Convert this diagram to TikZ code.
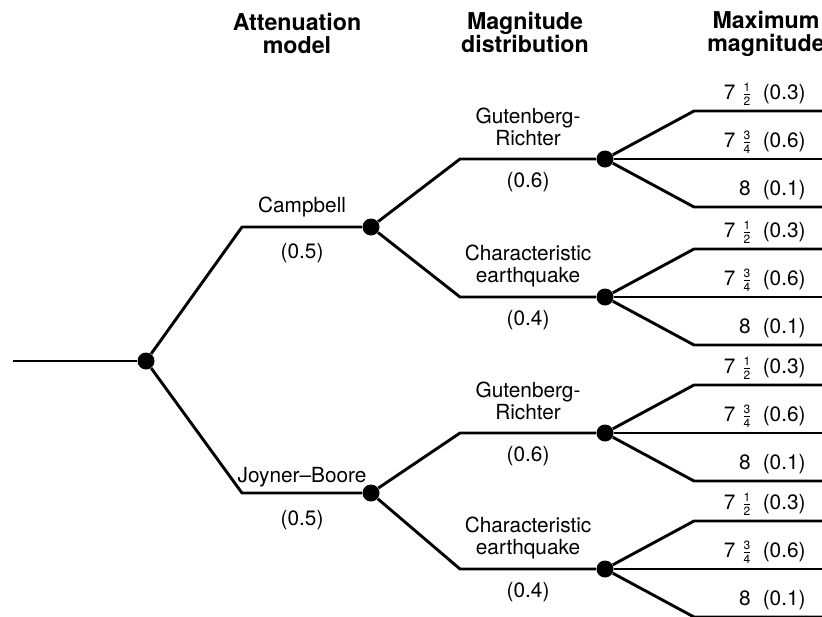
\documentclass[tikz,border=0pt]{standalone}
\usepackage{fontspec}
\setmainfont{TeX Gyre Heros}
\usetikzlibrary{calc}
\newcommand\magfrac[2]{$\frac{\mbox{\fontsize{6}{6}\selectfont#1}}{\mbox{\fontsize{6}{6}\selectfont#2}}$}

\begin{document}
\begin{tikzpicture}
      [x=.5pt,y=-.5pt
      ,dot/.style={circle,fill=black,inner sep=0pt,minimum size=8.5pt}
      ,lin/.style={line width=1.45pt,line join=round}
      ,lab/.style={font=\fontsize{10.4}{11}\selectfont,align=center,inner sep=0pt}
      ,head/.style={font=\fontsize{11.6}{11.5}\selectfont\bfseries,align=center,inner sep=0pt}
      ,mag/.style={font=\fontsize{10.4}{11}\selectfont,inner sep=0pt,anchor=base east,xshift=-7.5pt,yshift=6pt}
      ]
        \useasboundingbox (0,0) rectangle (822,616);
        % headings
        \node[head] (hatt) at (297,33) {Attenuation\\model};
        \node[head] (hdis) at (525,32) {Magnitude\\distribution};
        \node[head] (hmax) at (766,34) {Maximum\\magnitude};
        % branch points
        \coordinate (start) at (13,361);
        \coordinate (rim) at (822,0);
        \node[dot] (root) at (146,361) {};
        \node[dot] (camp) at (371,227) {};
        \node[dot] (joy) at (371,493) {};
        \node[dot] (gra) at (605,159) {};
        \node[dot] (cea) at (605,297) {};
        \node[dot] (grb) at (605,433) {};
        \node[dot] (ceb) at (605,569) {};
        \coordinate (campc) at (242,227);
        \coordinate (joyc) at (242,493);
        \coordinate (grac) at (460,159);
        \coordinate (ceac) at (460,297);
        \coordinate (grbc) at (460,433);
        \coordinate (cebc) at (460,569);
        % attenuation model
        \draw[lin] (start) -- (root);
        \draw[lin] (root) -- (campc) -- (camp)
          node[lab,midway,above=4.5pt] {Campbell} node[lab,midway,below=7.5pt] {(0.5)};
        \draw[lin] (root) -- (joyc) -- (joy)
          node[lab,midway,above=2.5pt] {Joyner--Boore} node[lab,midway,below=8pt] {(0.5)};
        % magnitude distribution
        \draw[lin] (camp) -- (grac) -- (gra)
          node[lab,midway,above=6pt] {Gutenberg-\\Richter} node[lab,midway,below=5.7pt] {(0.6)};
        \draw[lin] (camp) -- (ceac) -- (cea)
          node[lab,midway,above=4.5pt] {Characteristic\\earthquake} node[lab,midway,below=6pt] {(0.4)};
        \draw[lin] (joy) -- (grbc) -- (grb)
          node[lab,midway,above=6pt] {Gutenberg-\\Richter} node[lab,midway,below=5.7pt] {(0.6)};
        \draw[lin] (joy) -- (cebc) -- (ceb)
          node[lab,midway,above=4.5pt] {Characteristic\\earthquake} node[lab,midway,below=6pt] {(0.4)};
        % maximum magnitude
        \foreach \d in {gra,cea,grb,ceb} {
          \coordinate (\d-u) at ($(\d)+(89,-48)$);
          \coordinate (\d-l) at ($(\d)+(89,48)$);
          \draw[lin] (\d) -- (\d-u) -- (\d-u -| rim) node[mag] {7\hspace{3pt}\magfrac12\hspace{5pt}(0.3)};
          \draw[lin] (\d) -- (\d -| rim) node[mag] {7\hspace{3pt}\magfrac34\hspace{5pt}(0.6)};
          \draw[lin] (\d) -- (\d-l) -- (\d-l -| rim) node[mag] {8\hspace{6pt}(0.1)};
        }
      \end{tikzpicture}
\end{document}
